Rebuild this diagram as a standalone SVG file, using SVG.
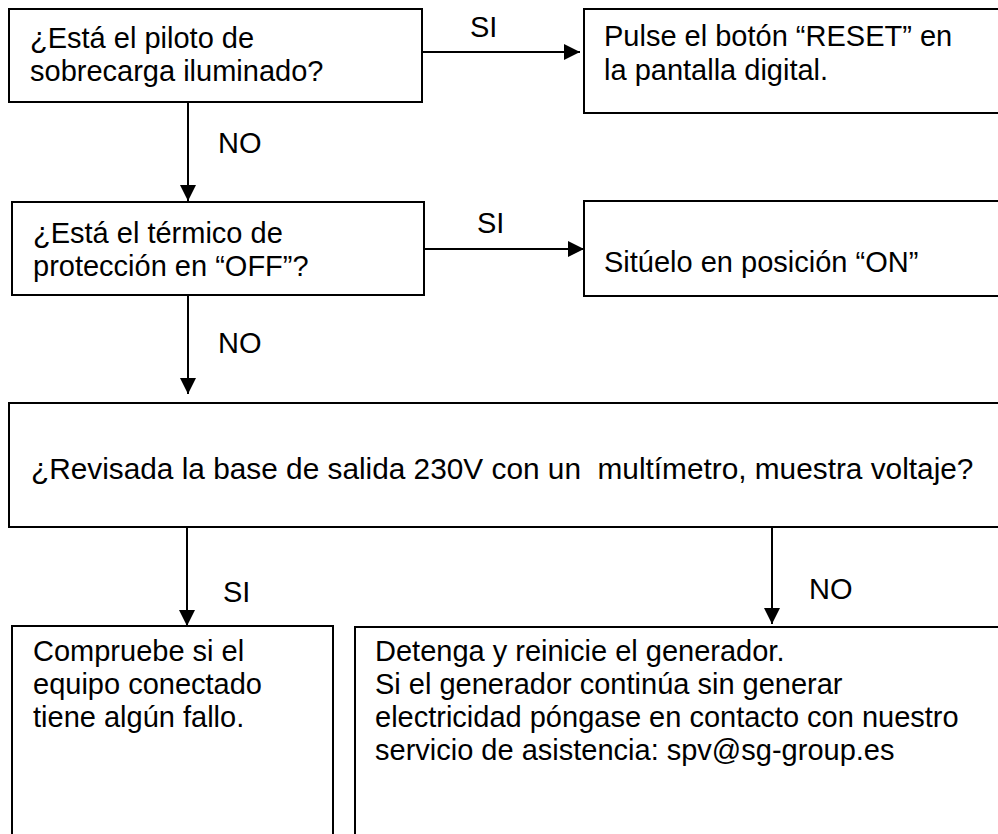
<svg xmlns="http://www.w3.org/2000/svg" width="998" height="834" viewBox="0 0 998 834">
<style>
  .box { fill: #fff; stroke: #000; stroke-width: 2; }
  .t { font-family: "Liberation Sans", Arial, sans-serif; font-size: 29px; fill: #000; }
  .c { stroke: #000; stroke-width: 2; fill: none; marker-end: url(#arr); }
</style>
<defs>
  <marker id="arr" markerUnits="userSpaceOnUse" markerWidth="16" markerHeight="16" refX="16" refY="8" orient="auto">
    <path d="M0,0 L16,8 L0,16 z" fill="#000"/>
  </marker>
</defs>
<rect width="998" height="834" fill="#fff"/>
<g id="connectors">
  <line class="c" x1="423" y1="52" x2="580" y2="52"/>
  <line class="c" x1="188" y1="102" x2="188" y2="201"/>
  <line class="c" x1="425" y1="249" x2="584" y2="249"/>
  <line class="c" x1="188" y1="296" x2="188" y2="394"/>
  <line class="c" x1="187" y1="528" x2="187" y2="626"/>
  <line class="c" x1="772" y1="528" x2="772" y2="624"/>
  <text class="t" x="470" y="37">SI</text>
  <text class="t" x="218" y="153">NO</text>
  <text class="t" x="477" y="233">SI</text>
  <text class="t" x="218" y="353">NO</text>
  <text class="t" x="223" y="602">SI</text>
  <text class="t" x="809" y="599">NO</text>
</g>
<g id="n1">
  <rect class="box" x="9" y="9" width="413" height="93"/>
  <text class="t" x="30" y="48">¿Está el piloto de</text>
  <text class="t" x="30" y="81">sobrecarga iluminado?</text>
</g>
<g id="n2">
  <rect class="box" x="584" y="9" width="420" height="104"/>
  <text class="t" x="604" y="46">Pulse el botón “RESET” en</text>
  <text class="t" x="604" y="80">la pantalla digital.</text>
</g>
<g id="n3">
  <rect class="box" x="12" y="202" width="412" height="93"/>
  <text class="t" x="33" y="243">¿Está el térmico de</text>
  <text class="t" x="33" y="276">protección en “OFF”?</text>
</g>
<g id="n4">
  <rect class="box" x="584" y="201" width="420" height="95"/>
  <text class="t" x="604" y="272">Sitúelo en posición “ON”</text>
</g>
<g id="n5">
  <rect class="box" x="9" y="403" width="995" height="124"/>
  <text class="t" x="31" y="479" style="font-size:29.8px" xml:space="preserve">¿Revisada la base de salida 230V con un  multímetro, muestra voltaje?</text>
</g>
<g id="n6">
  <rect class="box" x="12" y="626" width="321" height="220"/>
  <text class="t" x="33" y="661">Compruebe si el</text>
  <text class="t" x="33" y="694">equipo conectado</text>
  <text class="t" x="33" y="727">tiene algún fallo.</text>
</g>
<g id="n7">
  <rect class="box" x="355" y="627" width="650" height="220"/>
  <text class="t" x="375" y="661">Detenga y reinicie el generador.</text>
  <text class="t" x="375" y="694">Si el generador continúa sin generar</text>
  <text class="t" x="375" y="727">electricidad póngase en contacto con nuestro</text>
  <text class="t" x="375" y="760">servicio de asistencia: spv@sg-group.es</text>
</g>
</svg>
